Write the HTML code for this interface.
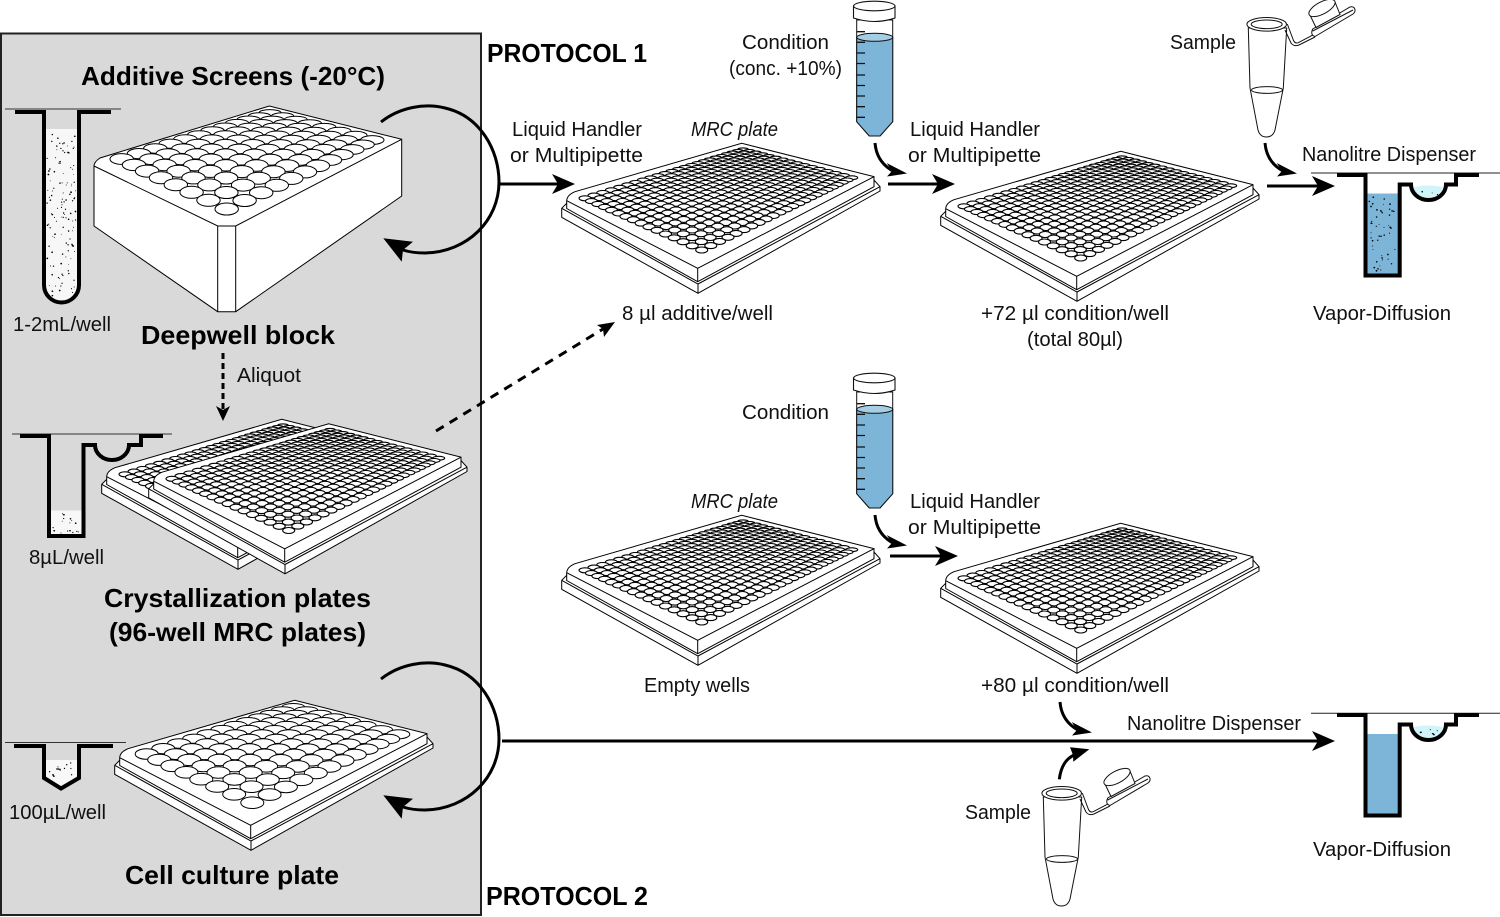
<!DOCTYPE html>
<html><head><meta charset="utf-8"><style>
html,body{margin:0;padding:0;background:#fff}
svg{display:block}
text{font-family:"Liberation Sans",sans-serif;fill:#111;font-size:20px}
.b{font-weight:bold;font-size:26px;fill:#000}
.i{font-style:italic}
</style></head><body>
<svg id="s" xmlns="http://www.w3.org/2000/svg" width="1500" height="917" viewBox="0 0 1500 917">
<defs>
<g id="cone">
<path d="M856.7 20V121.7L869.3 136H880L892.7 121.7V20Z" fill="#fff" stroke="#111" stroke-width="1"/>
<path d="M856.7 37.3V121.7L869.3 136H880L892.7 121.7V37.3Z" fill="#7db5d8" stroke="#111" stroke-width="1"/>
<ellipse cx="874.7" cy="37.3" rx="18" ry="4" fill="#a5cde3" stroke="#111"/>
<path d="M857 31.7h8M857 42.3h8M857 53h8M857 63.5h8M857 75h8M857 85.5h8M857 96h8M857 106.7h8M857 117.3h8" stroke="#111" stroke-width="1.3"/>
<path d="M853.5 6V18Q874.5 25 895 18V6Z" fill="#fff" stroke="#111" stroke-width="1.1"/>
<ellipse cx="874.3" cy="6" rx="20.7" ry="4.8" fill="#fff" stroke="#111" stroke-width="1.1"/>
</g>
<g id="epp" fill="#fff" stroke="#111" stroke-width="1">
<path d="M1248.3 28L1250 88L1258 130Q1260 137 1266.5 137Q1273 137 1275 130L1283.3 88L1286.7 28Z"/>
<path d="M1287.3 24L1293.3 40Q1295 44 1298.3 42.7L1312.7 35L1315 36" fill="#fff"/>
<path d="M1285 30L1291 43Q1294 47 1299 45L1315 37" fill="none"/>
<ellipse cx="1267" cy="90" rx="15.5" ry="3.4" fill="none"/>
<path d="M1312.7 29L1350 7Q1354 6 1355 9.5Q1355.5 12 1353 14L1315 36.5Q1310 35 1312.7 29Z"/>
<path d="M1312.7 31L1353 10" fill="none"/>
<path d="M1309 13L1316 27.5L1340 14.5L1335 2Z"/>
<ellipse cx="1322" cy="8" rx="14.5" ry="6" transform="rotate(-28 1322 8)"/>
<ellipse cx="1266.7" cy="24.3" rx="19.8" ry="6.8"/>
<ellipse cx="1266.7" cy="24.3" rx="15.5" ry="4.3"/>
</g>
<g id="curved"><path d="M1265 143C1266 155 1272 165 1283 171" fill="none" stroke="#000" stroke-width="3"/><path d="M1297 173.5L1276.7 163L1282 171L1277 176.5Z" fill="#000"/></g>
</defs>
<rect width="1500" height="917" fill="#fff"/>
<rect x="1" y="33.5" width="480" height="881.5" fill="#d9d9d9" stroke="#222" stroke-width="2"/>

<!-- Deepwell block -->
<path d="M94 166Q94 162 100 158L269.3 106L401.7 139.3V196L235.7 311.7H217.7L94 226Z" fill="#fff" stroke="#000" stroke-width="1"/>
<path d="M94 166L217.7 226H235.7L401.7 139.3M217.7 226V311.7M235.7 226V311.7" fill="none" stroke="#000" stroke-width="1"/>
<g id="plates"></g>

<!-- Left wells -->
<g id="dots"></g>
<path d="M5 109H121" stroke="#333" stroke-width="1"/>
<path d="M15 112H44V285A17.5 17.5 0 0 0 79 285V112H111" fill="none" stroke="#000" stroke-width="4"/>
<path d="M12 434H172" stroke="#333" stroke-width="1"/>
<path d="M20 436H49V536H83.5V445H95A17 15 0 0 0 129 445H141V436H163" fill="none" stroke="#000" stroke-width="4"/>
<path d="M5 742.5H126" stroke="#333" stroke-width="1"/>
<path d="M14 746H44V778L61 788.5L79 778V746H113" fill="none" stroke="#000" stroke-width="4"/>

<!-- Cones -->
<use href="#cone"/>
<use href="#cone" y="372"/>
<!-- Eppendorfs -->
<use href="#epp"/>
<use href="#epp" x="-205" y="769"/>

<!-- Right wells -->
<path d="M1311 173H1500" stroke="#222" stroke-width="1"/>
<path d="M1311 713.3H1500" stroke="#222" stroke-width="1"/>
<path d="M1367 193.5H1398V274H1367Z" fill="#7db5d8"/>
<path d="M1367 734H1398V814H1367Z" fill="#7db5d8"/>
<path d="M1414 187Q1428 184 1443 187Q1441 199 1428 199Q1415 199 1414 187Z" fill="#cff5fb"/>
<path d="M1414 727Q1428 724 1443 727Q1441 739 1428 739Q1415 739 1414 727Z" fill="#cff5fb"/>
<g id="dots2"></g>
<path id="rw" d="M1337 175H1365.5V275.5H1399.7V184.5H1411A17.5 15.5 0 0 0 1446 184.5H1456V175H1479" fill="none" stroke="#000" stroke-width="4"/>
<path d="M1337 715H1365.5V815.5H1399.7V724.5H1411A17.5 15.5 0 0 0 1446 724.5H1456V715H1479" fill="none" stroke="#000" stroke-width="4"/>

<!-- Big arcs -->
<g id="arc"><path d="M381 122C400 107 425 103 445 108C480 116 499 150 499 182C499 220 468 252 425 253Q412 253 403 250" fill="none" stroke="#000" stroke-width="3"/>
<path d="M383.3 238.3L413 241.7L403 250L401.7 261.7Z" fill="#000"/></g>
<use href="#arc" y="557"/>

<!-- Straight arrows -->
<g stroke="#000" stroke-width="3" fill="none">
<path d="M500 184H560M888 184H940M1267 186H1320M890 556H942M502 741H1320"/>
</g>
<g fill="#000">
<path d="M575 184L552 174L558 184L552 194Z"/>
<path d="M955 184L932 174L938 184L932 194Z"/>
<path d="M1335 186L1312 176L1318 186L1312 196Z"/>
<path d="M958 556L935 546L941 556L935 566Z"/>
<path d="M1335 741L1312 731L1318 741L1312 751Z"/>
</g>
<use href="#curved"/>
<use href="#curved" x="-390"/>
<use href="#curved" x="-390" y="372"/>
<use href="#curved" x="-205" y="559"/>
<path d="M1059.3 779.3C1061 766 1066 759 1074 755" fill="none" stroke="#000" stroke-width="3"/>
<path d="M1089.3 749.3L1070 747.3L1073 755L1073.3 761.7Z" fill="#000"/>

<!-- Dashed arrows -->
<path d="M223 353V410" stroke="#000" stroke-width="3" stroke-dasharray="6 4" fill="none"/>
<path d="M223 421L216 406L223 410L230 406Z" fill="#000"/>
<path d="M436 431L603 329" stroke="#000" stroke-width="3" stroke-dasharray="9 7" fill="none"/>
<path d="M615 322L597 325L603 329L604 337Z" fill="#000"/>

<!-- Text -->
<text class="b" x="487" y="62" textLength="160" lengthAdjust="spacingAndGlyphs">PROTOCOL 1</text>
<text class="b" x="486" y="905" textLength="162" lengthAdjust="spacingAndGlyphs">PROTOCOL 2</text>
<text class="b" x="81" y="85" textLength="304" lengthAdjust="spacingAndGlyphs">Additive Screens (-20°C)</text>
<text class="b" x="141" y="344" textLength="194" lengthAdjust="spacingAndGlyphs">Deepwell block</text>
<text class="b" x="104" y="607" textLength="267" lengthAdjust="spacingAndGlyphs">Crystallization plates</text>
<text class="b" x="109" y="641" textLength="257" lengthAdjust="spacingAndGlyphs">(96-well MRC plates)</text>
<text class="b" x="125" y="884" textLength="214" lengthAdjust="spacingAndGlyphs">Cell culture plate</text>
<text x="13" y="331" textLength="98" lengthAdjust="spacingAndGlyphs">1-2mL/well</text>
<text x="237" y="382" textLength="64" lengthAdjust="spacingAndGlyphs">Aliquot</text>
<text x="29" y="564" textLength="75" lengthAdjust="spacingAndGlyphs">8µL/well</text>
<text x="9" y="819" textLength="97" lengthAdjust="spacingAndGlyphs">100µL/well</text>
<text x="512" y="136" textLength="130" lengthAdjust="spacingAndGlyphs">Liquid Handler</text>
<text x="510" y="162" textLength="133" lengthAdjust="spacingAndGlyphs">or Multipipette</text>
<text class="i" x="691" y="136" textLength="87" lengthAdjust="spacingAndGlyphs">MRC plate</text>
<text x="742" y="49" textLength="87" lengthAdjust="spacingAndGlyphs">Condition</text>
<text x="729" y="75" textLength="113" lengthAdjust="spacingAndGlyphs">(conc. +10%)</text>
<text x="910" y="136" textLength="130" lengthAdjust="spacingAndGlyphs">Liquid Handler</text>
<text x="908" y="162" textLength="133" lengthAdjust="spacingAndGlyphs">or Multipipette</text>
<text x="1170" y="49" textLength="66" lengthAdjust="spacingAndGlyphs">Sample</text>
<text x="1302" y="161" textLength="174" lengthAdjust="spacingAndGlyphs">Nanolitre Dispenser</text>
<text x="622" y="320" textLength="151" lengthAdjust="spacingAndGlyphs">8 µl additive/well</text>
<text x="981" y="320" textLength="188" lengthAdjust="spacingAndGlyphs">+72 µl condition/well</text>
<text x="1027" y="346" textLength="96" lengthAdjust="spacingAndGlyphs">(total 80µl)</text>
<text x="1313" y="320" textLength="138" lengthAdjust="spacingAndGlyphs">Vapor-Diffusion</text>
<text x="742" y="419" textLength="87" lengthAdjust="spacingAndGlyphs">Condition</text>
<text class="i" x="691" y="508" textLength="87" lengthAdjust="spacingAndGlyphs">MRC plate</text>
<text x="910" y="508" textLength="130" lengthAdjust="spacingAndGlyphs">Liquid Handler</text>
<text x="908" y="534" textLength="133" lengthAdjust="spacingAndGlyphs">or Multipipette</text>
<text x="644" y="692" textLength="106" lengthAdjust="spacingAndGlyphs">Empty wells</text>
<text x="981" y="692" textLength="188" lengthAdjust="spacingAndGlyphs">+80 µl condition/well</text>
<text x="1127" y="730" textLength="174" lengthAdjust="spacingAndGlyphs">Nanolitre Dispenser</text>
<text x="965" y="819" textLength="66" lengthAdjust="spacingAndGlyphs">Sample</text>
<text x="1313" y="856" textLength="138" lengthAdjust="spacingAndGlyphs">Vapor-Diffusion</text>
</svg>
<script>
(function(){
function hom(q){
 var x0=q[0][0],y0=q[0][1],x1=q[1][0],y1=q[1][1],x2=q[2][0],y2=q[2][1],x3=q[3][0],y3=q[3][1];
 var dx1=x1-x2,dx2=x3-x2,sx=x0-x1+x2-x3,dy1=y1-y2,dy2=y3-y2,sy=y0-y1+y2-y3;
 var D=dx1*dy2-dx2*dy1,g=(sx*dy2-dx2*sy)/D,h=(dx1*sy-sx*dy1)/D;
 var a=x1-x0+g*x1,b=x3-x0+h*x3,d=y1-y0+g*y1,e=y3-y0+h*y3;
 return function(u,v){var w=g*u+h*v+1;return [(a*u+b*v+x0)/w,(d*u+e*v+y0)/w];};
}
function wells(q,nx,ny,kx,ky,dx,dy,sw,mx,my){
 var m=hom(q),list=[],s="";
 for(var i=0;i<nx;i++)for(var j=0;j<ny;j++){
  var u=i/(nx-1),v=j/(ny-1),p=m(u,v),a=m(u+1/(nx-1),v),b=m(u,v+1/(ny-1));
  var rx=Math.min(mx,kx*(Math.abs(a[0]-p[0])+Math.abs(b[0]-p[0]))),ry=Math.min(my,ky*(Math.abs(a[1]-p[1])+Math.abs(b[1]-p[1])));
  list.push([p[0]+dx,p[1]+dy,rx,ry]);
 }
 list.sort(function(a,b){return a[1]-b[1];});
 list.forEach(function(e){s+='<ellipse cx="'+e[0].toFixed(1)+'" cy="'+e[1].toFixed(1)+'" rx="'+e[2].toFixed(1)+'" ry="'+e[3].toFixed(1)+'"/>';});
 return '<g fill="#fff" stroke="#000" stroke-width="'+sw+'">'+s+'</g>';
}
var outline='<path d="M561.7 208.3V217.3L698 293.3L880 191V186.7L874 180L570 200Z" fill="#fff" stroke="#000"/>'+
 '<path d="M561.7 208.3L698 284L880 186.7M698 284V293.3" fill="none" stroke="#000"/>'+
 '<path d="M566.7 200.7V208.5L697.7 281.7L874 186.7V176.7L741.7 143.3L575 191.7Q567 195 566.7 200.7Z" fill="#fff" stroke="#000"/>'+
 '<path d="M566.7 200.7L697.7 268.3L874 176.7M697.7 268.3V281.7" fill="none" stroke="#000"/>';
var mq=[[585,198.3],[743,149.3],[851.7,177.7],[701.7,250]];
function plate(dx,dy,w){return '<g transform="translate('+dx+' '+dy+')">'+outline+'</g>'+(w||wells(mq,24,16,.47,.44,dx,dy,1.1,6,3));}
var h="";
h+=wells([[121.7,159],[270,112.7],[372.3,140],[226.7,209]],12,8,.48,.48,0,0,1,11.7,6);
h+=plate(0,0)+plate(379,8)+plate(0,372)+plate(379,380);
h+=plate(-460,276)+plate(-413,280.5);
h+=plate(-447,557,wells([[146.7,754],[293.3,706.7],[398.3,734.3],[252.3,802.7]],12,8,.48,.48,0,0,1,11.5,5.8));
document.getElementById("plates").innerHTML=h;

var t=987654;function r(){t|=0;t=t+0x6D2B79F5|0;var a=Math.imul(t^t>>>15,1|t);a=a+Math.imul(a^a>>>7,61|a)^a;return((a^a>>>14)>>>0)/4294967296;}
function dots(x0,y0,x1,y1,n,col,test){
 var s="";
 for(var i=0;i<n;i++){var x=x0+r()*(x1-x0),y=y0+r()*(y1-y0);
  if(test&&!test(x,y))continue;
  s+='<circle cx="'+x.toFixed(1)+'" cy="'+y.toFixed(1)+'" r="'+(.4+r()*.5).toFixed(2)+'" fill="'+col+'"/>';}
 return s;
}
var d="";
d+='<path d="M46 129H77V285A15.5 15.5 0 0 1 46 285Z" fill="#f7f7f7"/>';
d+=dots(47,131,76,299,130,"#000",function(x,y){return y<285||Math.hypot(x-61.5,y-285)<14;});
d+='<rect x="51" y="510.5" width="31" height="24" fill="#f8f8f8"/>';
d+=dots(53,513,80,533,16,"#000");
d+='<path d="M46 760H77V776L61 786L46 776Z" fill="#f8f8f8"/>';
d+=dots(48,762,75,778,14,"#000");
document.getElementById("dots").innerHTML=d;
var e=dots(1369,197,1396,272,48,"#000");
e+=dots(1420,189,1438,195,3,"#000");
e+=dots(1419,729,1438,736,8,"#000");
document.getElementById("dots2").innerHTML=e;
})();
</script>
</body></html>
